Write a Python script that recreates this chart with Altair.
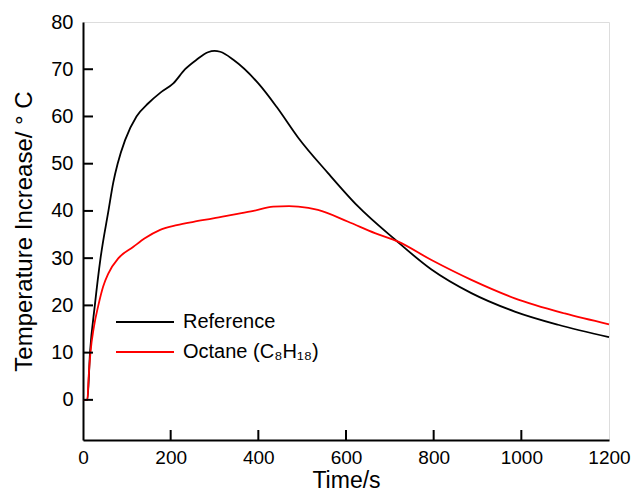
import altair as alt
import pandas as pd

# Reference curve (time s, temperature increase °C)
ref_t = [0, 10, 16, 27, 40, 58, 69, 79, 96, 122, 149, 176, 206, 233, 259, 285, 300, 313,
         343, 400, 442, 491, 559, 627, 711, 795, 886, 985, 1084, 1200]
ref_v = [0, 0, 10, 20, 30, 40, 46, 50, 55, 60, 62.8, 65, 67, 70, 72, 73.6, 73.9, 73.7,
         72, 67, 62, 55.5, 48, 41, 34, 27.6, 22.6, 18.7, 15.9, 13.3]

# Octane curve
oct_t = [0, 10, 13, 17, 25, 35, 46, 58, 81, 115, 141, 176, 214, 252, 297, 343, 389, 434, 470,
         491, 536, 605, 666, 719, 795, 886, 985, 1099, 1200]
oct_v = [0, 0, 5, 10, 15.5, 20, 24, 26.8, 30, 32.4, 34.2, 36, 37, 37.7, 38.4, 39.2, 40, 40.9, 41,
         40.9, 40.2, 37.7, 35.3, 33.5, 29.6, 25.4, 21.5, 18.3, 16]

series_names = ["Reference", "Octane (C₈H₁₈)"]
series_colors = ["#000000", "#ff0000"]

x_ticks = [0, 200, 400, 600, 800, 1000, 1200]
y_ticks = [0, 10, 20, 30, 40, 50, 60, 70, 80]
x_inner_ticks = [200, 400, 600, 800, 1000]
y_inner_ticks = [0, 10, 20, 30, 40, 50, 60, 70]
x_domain = [0, 1200]
y_domain = [-8.5, 80]

W, H = 526, 418
TICK = 10

rows = []
for t, v in zip(ref_t, ref_v):
    rows.append({"t": t, "v": v, "s": series_names[0], "o": 0})
for t, v in zip(oct_t, oct_v):
    rows.append({"t": t, "v": v, "s": series_names[1], "o": 1})
df = pd.DataFrame(rows)

FONT = "Liberation Sans"

xs = alt.Scale(domain=x_domain, nice=False, zero=False)
ys = alt.Scale(domain=y_domain, nice=False, zero=False)

lines = alt.Chart(df).mark_line(strokeWidth=1.8, interpolate="monotone").encode(
    x=alt.X("t:Q", scale=xs,
            axis=alt.Axis(title="Time/s", values=x_ticks, format="d", grid=False,
                          ticks=False, tickSize=0, labelPadding=8,
                          labelFontSize=19, titleFontSize=23, titlePadding=2,
                          labelFont=FONT, titleFont=FONT, titleFontWeight="normal",
                          domainColor="black", domainWidth=2,
                          labelColor="black", titleColor="black", labelFlush=False)),
    y=alt.Y("v:Q", scale=ys,
            axis=alt.Axis(title="Temperature Increase/ ° C", values=y_ticks, grid=False,
                          ticks=False, tickSize=0, labelPadding=10,
                          labelFontSize=20, titleFontSize=24, titlePadding=14,
                          labelFont=FONT, titleFont=FONT, titleFontWeight="normal",
                          domainColor="black", domainWidth=2,
                          labelColor="black", titleColor="black", labelFlush=False)),
    color=alt.Color("s:N",
                    scale=alt.Scale(domain=series_names, range=series_colors),
                    legend=alt.Legend(title=None, orient="none", legendX=32, legendY=290,
                                      symbolType="stroke", symbolSize=3364,
                                      symbolStrokeWidth=2, labelFontSize=20,
                                      labelFont=FONT, labelColor="black",
                                      labelOffset=8, clipHeight=20, rowPadding=10,
                                      padding=0)),
    order="o:Q",
    detail="s:N",
)

xt_df = pd.DataFrame({"t": x_inner_ticks})
yt_df = pd.DataFrame({"v": y_inner_ticks})

xticks = alt.Chart(xt_df).mark_rule(strokeWidth=2, color="black").encode(
    x=alt.X("t:Q", scale=xs), y=alt.value(H), y2=alt.value(H - TICK))
yticks = alt.Chart(yt_df).mark_rule(strokeWidth=2, color="black").encode(
    y=alt.Y("v:Q", scale=ys), x=alt.value(0), x2=alt.value(TICK))

chart = alt.layer(lines, xticks, yticks).properties(
    width=W, height=H,
    autosize=alt.AutoSizeParams(type="none"),
    padding={"left": 75, "top": 14, "right": 22, "bottom": 56},
).configure_view(stroke="black", strokeWidth=2).configure(background="white")

chart.save("out.html", embed_options={"renderer": "svg", "actions": False})
